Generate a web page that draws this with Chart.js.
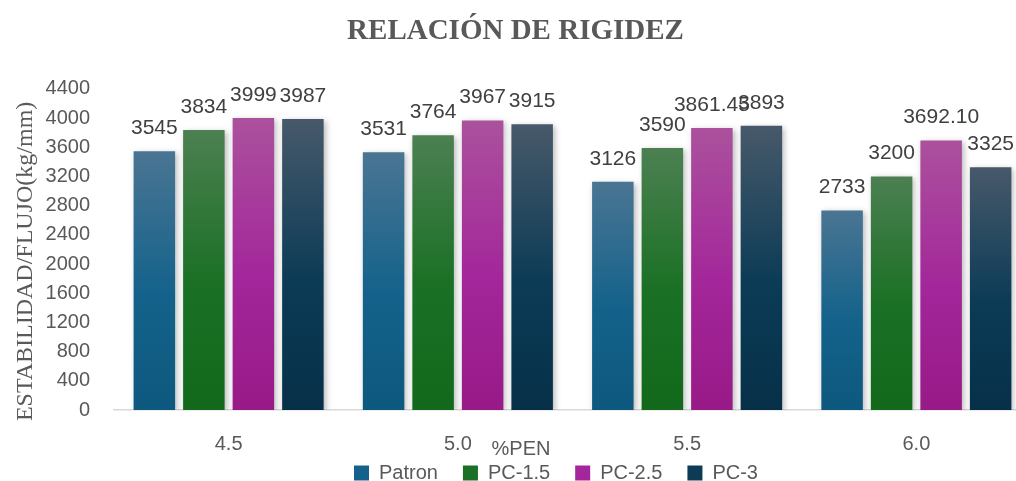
<!DOCTYPE html>
<html>
<head>
<meta charset="utf-8">
<script src="https://cdn.jsdelivr.net/npm/chart.js@4.4.0/dist/chart.umd.min.js"></script>
<style>
  html, body { margin: 0; padding: 0; background: #fff; overflow: hidden; }
  #frame { width: 1016px; height: 481px; overflow: hidden; position: relative; }
  /* the plot runs a little past the right and bottom edge, as in the reference */
  #wrap { width: 1031px; height: 510px; position: absolute; left: 0; top: 0; }
</style>
</head>
<body>
<div id="frame"><div id="wrap"><canvas id="chart"></canvas></div></div>
<script>
// data
var categories = ['4.5', '5.0', '5.5', '6.0'];
var seriesNames = ['Patron', 'PC-1.5', 'PC-2.5', 'PC-3'];
var patron = [3545, 3531, 3126, 2733];
var pc15 = [3834, 3764, 3590, 3200];
var pc25 = [3999, 3967, 3861.45, 3692.10];
var pc3 = [3987, 3915, 3893, 3325];
var yMax = 4400, yStep = 400;

// gradient colours: top, middle, bottom
var palette = [
    ['#4a7593', '#14628b', '#0d587e'],
    ['#4c8052', '#1a7024', '#12691c'],
    ['#ab519d', '#a3269a', '#981a88'],
    ['#47596a', '#0c3b56', '#063048']
];

function fmt(v) {
    return Number.isInteger(v) ? String(v) : v.toFixed(2);
}

function barFill(idx) {
    return function (ctx) {
        var chart = ctx.chart, y = chart.scales.y;
        var p = palette[idx];
        if (ctx.type !== 'data' || !y || !chart.chartArea) return p[1];
        var top = y.getPixelForValue(ctx.parsed.y);
        var base = y.getPixelForValue(0);
        var g = chart.ctx.createLinearGradient(0, top, 0, base);
        g.addColorStop(0, p[0]);
        g.addColorStop(0.55, p[1]);
        g.addColorStop(1, p[2]);
        return g;
    };
}

var barShadow = {
    id: 'barShadow',
    beforeDatasetsDraw: function (chart) {
        var c = chart.ctx;
        c.save();
        c.shadowColor = 'rgba(0,0,0,0.28)';
        c.shadowBlur = 6;
        c.shadowOffsetX = 2;
        c.shadowOffsetY = 2;
    },
    afterDatasetsDraw: function (chart) {
        chart.ctx.restore();
    }
};

// value labels above each bar
var valueLabels = {
    id: 'valueLabels',
    afterDatasetsDraw: function (chart) {
        var c = chart.ctx;
        c.save();
        c.font = '21px "Liberation Sans", Arial, sans-serif';
        c.fillStyle = '#404040';
        c.textAlign = 'center';
        c.textBaseline = 'alphabetic';
        chart.data.datasets.forEach(function (ds, i) {
            chart.getDatasetMeta(i).data.forEach(function (bar, j) {
                c.fillText(fmt(ds.data[j]), bar.x, bar.y - 17);
            });
        });
        c.restore();
    }
};

// "%PEN" sits between the tick labels and the legend
var axisName = {
    id: 'axisName',
    afterDraw: function (chart) {
        var c = chart.ctx;
        c.save();
        c.font = '20px "Liberation Sans", Arial, sans-serif';
        c.fillStyle = '#595959';
        c.textAlign = 'center';
        c.textBaseline = 'middle';
        c.fillText('%PEN', 521, 449);
        c.restore();
    }
};

// move the legend so its row sits where the reference has it
var legendShift = {
    id: 'legendShift',
    afterLayout: function (chart) {
        var lg = chart.legend;
        var dx = 556 - (lg.left + lg.right) / 2;
        var dy = 473 - (lg.top + lg.options.labels.padding + 10);
        lg.left += dx; lg.right += dx;
        lg.top += dy; lg.bottom += dy;
    }
};

var lists = [patron, pc15, pc25, pc3];
var datasets = lists.map(function (vals, i) {
    return {
        label: seriesNames[i],
        data: vals,
        backgroundColor: barFill(i),
        borderWidth: 0,
        categoryPercentage: 0.864,
        barPercentage: 0.838
    };
});

var ticksFont = { family: '"Liberation Sans", Arial, sans-serif', size: 20 };

new Chart(document.getElementById('chart'), {
    type: 'bar',
    data: { labels: categories, datasets: datasets },
    plugins: [barShadow, valueLabels, axisName, legendShift],
    options: {
        responsive: true,
        maintainAspectRatio: false,
        animation: false,
        plugins: {
            title: {
                display: true,
                text: 'RELACIÓN DE RIGIDEZ',
                color: '#595959',
                font: { family: '"Liberation Serif", "Times New Roman", serif', size: 29, weight: 'bold' },
                padding: { top: 14, bottom: 40 }
            },
            legend: {
                position: 'bottom',
                labels: {
                    color: '#595959',
                    font: ticksFont,
                    boxWidth: 15,
                    boxHeight: 15,
                    padding: 25,
                    generateLabels: function (chart) {
                        return chart.data.datasets.map(function (ds, i) {
                            return {
                                text: ds.label,
                                fillStyle: palette[i][1],
                                strokeStyle: palette[i][1],
                                lineWidth: 0,
                                fontColor: '#595959',
                                datasetIndex: i
                            };
                        });
                    }
                }
            },
            tooltip: { enabled: false }
        },
        scales: {
            x: {
                grid: { display: false, drawTicks: false },
                border: { display: true, color: '#d9d9d9', width: 1.5 },
                ticks: { color: '#595959', font: ticksFont, padding: 22 },
                afterFit: function (s) { s.height = 45; }
            },
            y: {
                min: 0,
                max: yMax,
                grid: { display: false, drawTicks: false },
                border: { display: false },
                ticks: {
                    stepSize: yStep, color: '#595959', font: ticksFont, padding: 24,
                    callback: function (v) { return String(v); }
                },
                title: {
                    display: true,
                    // trailing spaces push the centred text a little lower, as in the reference
                    text: 'ESTABILIDAD/FLUJO(kg/mm)    ',
                    color: '#595959',
                    font: { family: '"Liberation Serif", "Times New Roman", serif', size: 24 },
                    padding: { top: 11, bottom: 0 }
                },
                afterFit: function (s) { s.width = 114; }
            }
        }
    }
});
</script>
</body>
</html>
